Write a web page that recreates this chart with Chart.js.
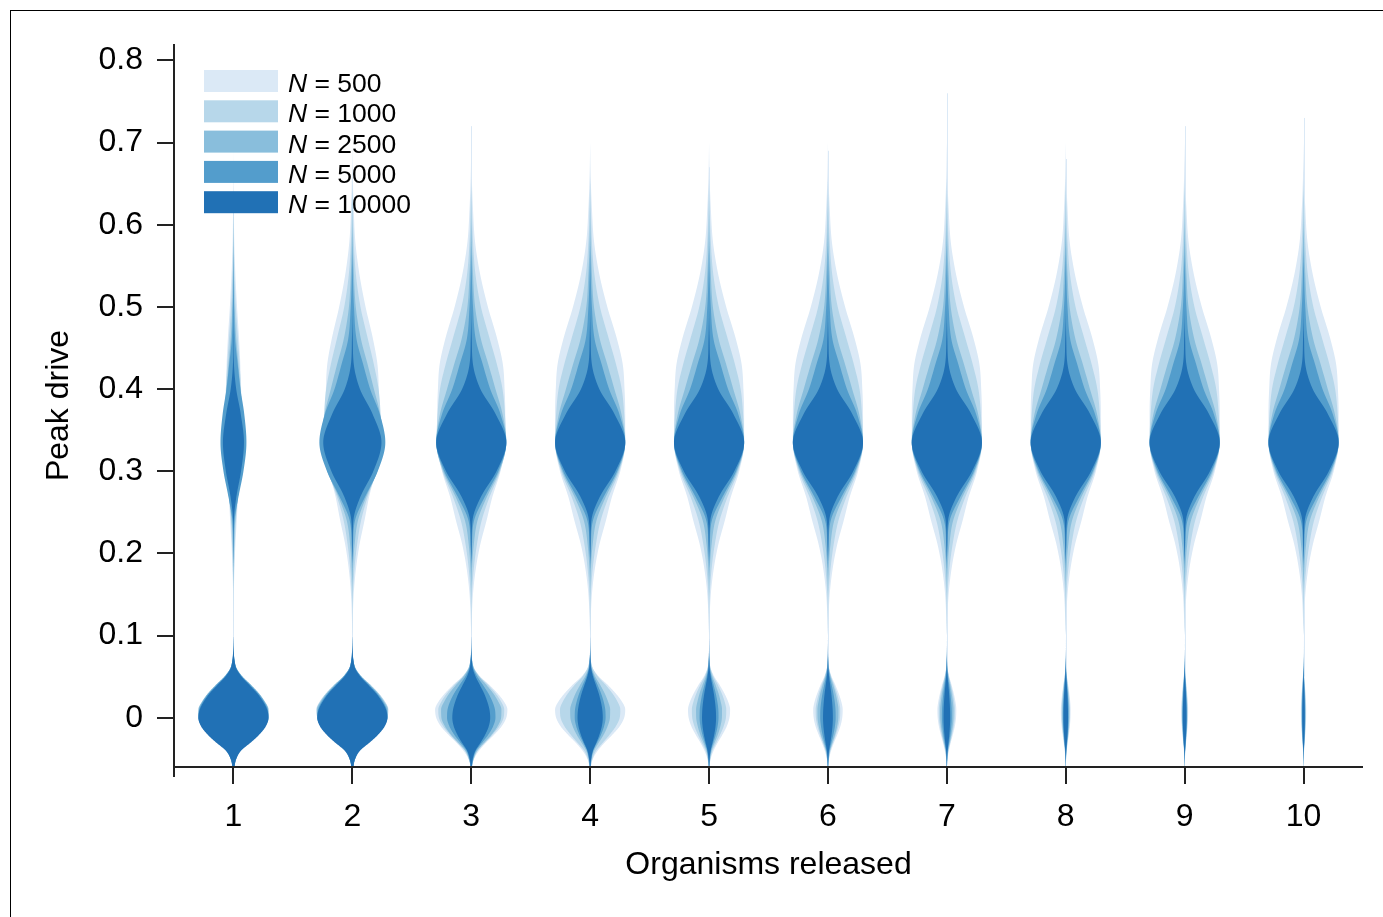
<!DOCTYPE html>
<html>
<head>
<meta charset="utf-8">
<title>Peak drive by organisms released</title>
<script src="https://cdn.jsdelivr.net/npm/chart.js@4.4.1/dist/chart.umd.min.js"></script>
<style>
    html, body { margin: 0; padding: 0; background: #fff; }
    #wrap { position: relative; width: 1383px; height: 917px; overflow: hidden; }
    #frame { position: absolute; left: 10px; top: 10px; width: 1500px; height: 1100px;
             border-top: 1.5px solid #000; border-left: 1.5px solid #000; }
    #c { position: absolute; left: 0; top: 0; }
</style>
</head>
<body>
<div id="wrap">
    <div id="frame"></div>
    <canvas id="c" width="1383" height="917"></canvas>
</div>
<script>
(function () {
    'use strict';

    // ------------------------------------------------------------------
    // Data
    // ------------------------------------------------------------------
    var released = [1, 2, 3, 4, 5, 6, 7, 8, 9, 10];
    var yTicks = [0, 0.1, 0.2, 0.3, 0.4, 0.5, 0.6, 0.7, 0.8];
    var popSizes = [500, 1000, 2500, 5000, 10000];
    var colours = ['#dbe9f6', '#b7d7ea', '#89bedc', '#539dcc', '#2171b5'];

    // upper mode (~0.335): relative half-width at each peak-drive level
    var upperLevels = [0.10, 0.15, 0.18, 0.21, 0.24, 0.27, 0.30, 0.335, 0.37, 0.40, 0.43, 0.46, 0.50, 0.54, 0.58, 0.62, 0.66, 0.70];
    var upperProfile500   = [0, 0.05, 0.13, 0.26, 0.45, 0.63, 0.86, 1, 1, 0.98, 0.93, 0.77, 0.49, 0.26, 0.11, 0.05, 0.015, 0];
    var upperProfile1000  = [0, 0.02, 0.07, 0.16, 0.30, 0.54, 0.83, 1, 0.97, 0.90, 0.74, 0.54, 0.28, 0.12, 0.05, 0.02, 0, 0];
    var upperProfile2500  = [0, 0, 0.02, 0.07, 0.18, 0.46, 0.80, 1, 0.89, 0.69, 0.49, 0.28, 0.11, 0.05, 0.015, 0, 0, 0];
    var upperProfile5000  = [0, 0, 0, 0.02, 0.08, 0.40, 0.77, 1, 0.83, 0.54, 0.33, 0.13, 0.05, 0.015, 0, 0, 0, 0];
    var upperProfile10000 = [0, 0, 0, 0.01, 0.035, 0.29, 0.72, 1, 0.69, 0.26, 0.05, 0.015, 0, 0, 0, 0, 0, 0];

    // lower mode (~0): relative half-width at each peak-drive level
    var lowerLevels = [-0.08, -0.06, -0.05, -0.04, -0.03, -0.02, -0.01, 0, 0.01, 0.02, 0.03, 0.04, 0.05, 0.06, 0.07, 0.08, 0.10];
    var lowerProfile500   = [0, 0.02, 0.08, 0.22, 0.42, 0.65, 0.85, 0.97, 1, 0.90, 0.72, 0.50, 0.25, 0.08, 0.02, 0, 0];
    var lowerProfile1000  = [0, 0.02, 0.08, 0.20, 0.43, 0.66, 0.86, 0.98, 1, 0.90, 0.73, 0.51, 0.26, 0.09, 0.02, 0, 0];
    var lowerProfile2500  = [0, 0.02, 0.08, 0.20, 0.44, 0.69, 0.88, 0.99, 1, 0.89, 0.72, 0.50, 0.26, 0.09, 0.03, 0.005, 0];
    var lowerProfile5000  = [0, 0.03, 0.08, 0.20, 0.46, 0.72, 0.91, 1, 0.98, 0.87, 0.70, 0.48, 0.25, 0.09, 0.03, 0.01, 0];
    var lowerProfile10000 = [0, 0.03, 0.08, 0.22, 0.50, 0.75, 0.93, 1, 0.96, 0.84, 0.67, 0.45, 0.23, 0.08, 0.03, 0.01, 0];

    // peak width of each mode per number released (1 = widest violin)
    var upperScale500   = [0.21, 0.77, 0.97, 1, 1, 1, 1, 1, 1, 1];
    var upperScale1000  = [0.24, 0.83, 0.99, 1, 1, 1, 1, 1, 1, 1];
    var upperScale2500  = [0.29, 0.89, 1, 1, 1, 1, 1, 1, 1, 1];
    var upperScale5000  = [0.37, 0.94, 1, 1, 1, 1, 1, 1, 1, 1];
    var upperScale10000 = [0.30, 0.83, 1, 1, 1, 1, 1, 1, 1, 1];

    var lowerScale500   = [0.97, 1.03, 1.03, 1.00, 0.60, 0.42, 0.27, 0.14, 0.10, 0.077];
    var lowerScale1000  = [0.98, 1.02, 0.94, 0.86, 0.49, 0.35, 0.23, 0.12, 0.086, 0.066];
    var lowerScale2500  = [1, 1.01, 0.86, 0.57, 0.37, 0.30, 0.19, 0.10, 0.074, 0.054];
    var lowerScale5000  = [1, 1, 0.69, 0.44, 0.27, 0.22, 0.14, 0.08, 0.062, 0.044];
    var lowerScale10000 = [1, 1, 0.54, 0.36, 0.20, 0.14, 0.094, 0.065, 0.052, 0.035];

    // highest value reached (thin tail of the lightest violin)
    var tailTop = [0.58, 0.63, 0.72, 0.65, 0.67, 0.69, 0.76, 0.68, 0.72, 0.73];

    var series = [
        { upper: upperProfile500,   lower: lowerProfile500,   upScale: upperScale500,   lowScale: lowerScale500 },
        { upper: upperProfile1000,  lower: lowerProfile1000,  upScale: upperScale1000,  lowScale: lowerScale1000 },
        { upper: upperProfile2500,  lower: lowerProfile2500,  upScale: upperScale2500,  lowScale: lowerScale2500 },
        { upper: upperProfile5000,  lower: lowerProfile5000,  upScale: upperScale5000,  lowScale: lowerScale5000 },
        { upper: upperProfile10000, lower: lowerProfile10000, upScale: upperScale10000, lowScale: lowerScale10000 }
    ];

    var MAX_HALF = 0.295;          // widest half-violin, in x units
    var FONT = '"Liberation Sans", Arial, Helvetica, sans-serif';
    var INK = '#222';

    // ------------------------------------------------------------------
    // Helper: monotone cubic through the profile points (no overshoot)
    // ------------------------------------------------------------------
    function monotone(xs, ys) {
        var n = xs.length, d = [], m = [], i;
        for (i = 0; i < n - 1; i++) d[i] = (ys[i + 1] - ys[i]) / (xs[i + 1] - xs[i]);
        m[0] = d[0];
        m[n - 1] = d[n - 2];
        for (i = 1; i < n - 1; i++) m[i] = (d[i - 1] * d[i] <= 0) ? 0 : (d[i - 1] + d[i]) / 2;
        for (i = 0; i < n - 1; i++) {
            if (d[i] === 0) { m[i] = 0; m[i + 1] = 0; continue; }
            var a = m[i] / d[i], b = m[i + 1] / d[i], s = a * a + b * b;
            if (s > 9) {
                var t = 3 / Math.sqrt(s);
                m[i] = t * a * d[i];
                m[i + 1] = t * b * d[i];
            }
        }
        return function (x) {
            if (x <= xs[0]) return ys[0];
            if (x >= xs[n - 1]) return ys[n - 1];
            var k = 0;
            while (x > xs[k + 1]) k++;
            var h = xs[k + 1] - xs[k], t = (x - xs[k]) / h, t2 = t * t, t3 = t2 * t;
            return (2 * t3 - 3 * t2 + 1) * ys[k] + (t3 - 2 * t2 + t) * h * m[k]
                 + (-2 * t3 + 3 * t2) * ys[k + 1] + (t3 - t2) * h * m[k + 1];
        };
    }

    function drawLobe(ctx, xs, ys, cx, levels, profile, amp) {
        if (amp <= 0) return;
        var f = monotone(levels, profile);
        var lo = levels[0], hi = levels[levels.length - 1], steps = 220;
        var pts = [], k;
        for (k = 0; k <= steps; k++) {
            var v = lo + (hi - lo) * k / steps;
            pts.push([v, Math.max(0, f(v)) * amp * MAX_HALF]);
        }
        ctx.beginPath();
        for (k = 0; k < pts.length; k++) {
            var px = xs.getPixelForValue(cx + pts[k][1]), py = ys.getPixelForValue(pts[k][0]);
            if (k === 0) ctx.moveTo(px, py); else ctx.lineTo(px, py);
        }
        for (k = pts.length - 1; k >= 0; k--) {
            ctx.lineTo(xs.getPixelForValue(cx - pts[k][1]), ys.getPixelForValue(pts[k][0]));
        }
        ctx.closePath();
        ctx.fill();
    }

    // ------------------------------------------------------------------
    // Plugin: violins, spines and the legend
    // ------------------------------------------------------------------
    var violinPlugin = {
        id: 'violins',
        beforeDatasetsDraw: function (chart) {
            var ctx = chart.ctx, area = chart.chartArea;
            var xs = chart.scales.x, ys = chart.scales.y;
            ctx.save();
            ctx.beginPath();
            ctx.rect(area.left, area.top, area.right - area.left, area.bottom - area.top);
            ctx.clip();

            // faint tails joining the two modes
            ctx.strokeStyle = colours[0];
            ctx.lineWidth = 1;
            released.forEach(function (r, i) {
                var px = Math.round(xs.getPixelForValue(r)) + 0.5;
                ctx.beginPath();
                ctx.moveTo(px, ys.getPixelForValue(0.05));
                ctx.lineTo(px, ys.getPixelForValue(tailTop[i]));
                ctx.stroke();
            });

            series.forEach(function (s, si) {
                ctx.fillStyle = colours[si];
                released.forEach(function (r, i) {
                    drawLobe(ctx, xs, ys, r, upperLevels, s.upper, s.upScale[i]);
                    drawLobe(ctx, xs, ys, r, lowerLevels, s.lower, s.lowScale[i]);
                });
            });
            ctx.restore();
        },
        afterDraw: function (chart) {
            var ctx = chart.ctx, area = chart.chartArea;
            ctx.save();

            // offset-style spines
            ctx.strokeStyle = INK;
            ctx.lineWidth = 2;
            ctx.beginPath();
            ctx.moveTo(area.left, area.top);
            ctx.lineTo(area.left, area.bottom + 10);
            ctx.moveTo(area.left, area.bottom);
            ctx.lineTo(area.right, area.bottom);
            ctx.stroke();

            // legend, italic N
            var lx = area.left + 30, ly = area.top + 26, rowH = 30.3;
            chart.data.datasets.forEach(function (ds, i) {
                var top = ly + i * rowH;
                ctx.fillStyle = ds.backgroundColor;
                ctx.fillRect(lx, top, 74, 22);
                ctx.fillStyle = '#000';
                ctx.textBaseline = 'alphabetic';
                ctx.textAlign = 'left';
                ctx.font = 'italic 26.5px ' + FONT;
                ctx.fillText('N', lx + 84, top + 22);
                var w = ctx.measureText('N').width;
                ctx.font = '26.5px ' + FONT;
                ctx.fillText(' = ' + popSizes[i], lx + 84 + w, top + 22);
            });
            ctx.restore();
        }
    };

    var tickFont = { family: FONT, size: 32 };
    var titleFont = { family: FONT, size: 32 };

    new Chart(document.getElementById('c'), {
        type: 'scatter',
        data: {
            datasets: popSizes.map(function (n, i) {
                return { label: 'N = ' + n, data: [], backgroundColor: colours[i] };
            })
        },
        options: {
            responsive: false,
            animation: false,
            devicePixelRatio: 1,
            layout: { padding: { left: 40, top: 44, right: 20, bottom: 33 } },
            plugins: {
                legend: { display: false },
                tooltip: { enabled: false }
            },
            scales: {
                x: {
                    type: 'linear',
                    min: 0.5,
                    max: 10.5,
                    afterBuildTicks: function (s) { s.ticks = released.map(function (v) { return { value: v }; }); },
                    afterFit: function (s) { s.height = 117; },
                    border: { display: false },
                    grid: { drawOnChartArea: false, drawTicks: true, tickLength: 17, color: INK, lineWidth: 2 },
                    ticks: { font: tickFont, color: '#000', padding: 14, autoSkip: false, maxRotation: 0 },
                    title: { display: true, text: 'Organisms released', font: titleFont, color: '#000', padding: 0 }
                },
                y: {
                    min: -0.06,
                    max: 0.82,
                    afterBuildTicks: function (s) { s.ticks = yTicks.map(function (v) { return { value: v }; }); },
                    afterFit: function (s) { s.width = 134; },
                    border: { display: false },
                    grid: { drawOnChartArea: false, drawTicks: true, tickLength: 17, color: INK, lineWidth: 2 },
                    ticks: {
                        font: tickFont, color: '#000', padding: 14, autoSkip: false,
                        callback: function (v) { return v === 0 ? '0' : v.toFixed(1); }
                    },
                    title: { display: true, text: 'Peak drive', font: titleFont, color: '#000', padding: 0 }
                }
            }
        },
        plugins: [violinPlugin]
    });
})();
</script>
</body>
</html>
